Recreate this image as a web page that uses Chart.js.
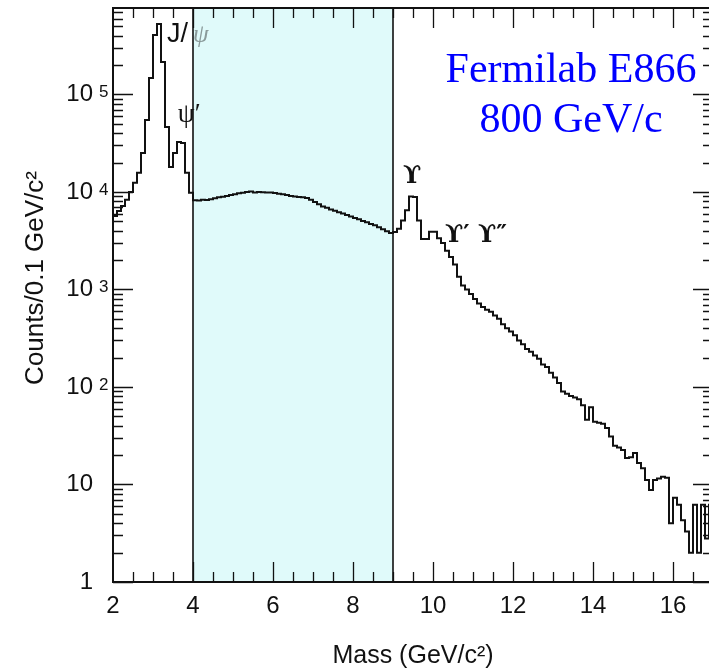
<!DOCTYPE html>
<html><head><meta charset="utf-8">
<script src="https://cdn.jsdelivr.net/npm/chart.js@4.4.1/dist/chart.umd.min.js"></script>
<style>
html,body{margin:0;padding:0;background:#fff;overflow:hidden;width:709px;height:668px}
#wrap{width:714px;height:668px}
canvas{display:block}
</style></head>
<body><div id="wrap"><canvas id="c" width="714" height="668"></canvas></div>
<script>
// Bin edges (GeV/c^2), 0.1 GeV bins
const massEdges = [
 2.0,2.1,2.2,2.3,2.4,2.5,2.6,2.7,2.8,2.9,
 3.0,3.1,3.2,3.3,3.4,3.5,3.6,3.7,3.8,3.9,
 4.0,4.1,4.2,4.3,4.4,4.5,4.6,4.7,4.8,4.9,
 5.0,5.1,5.2,5.3,5.4,5.5,5.6,5.7,5.8,5.9,
 6.0,6.1,6.2,6.3,6.4,6.5,6.6,6.7,6.8,6.9,
 7.0,7.1,7.2,7.3,7.4,7.5,7.6,7.7,7.8,7.9,
 8.0,8.1,8.2,8.3,8.4,8.5,8.6,8.7,8.8,8.9,
 9.0,9.1,9.2,9.3,9.4,9.5,9.6,9.7,9.8,9.9,
 10.0,10.1,10.2,10.3,10.4,10.5,10.6,10.7,10.8,10.9,
 11.0,11.1,11.2,11.3,11.4,11.5,11.6,11.7,11.8,11.9,
 12.0,12.1,12.2,12.3,12.4,12.5,12.6,12.7,12.8,12.9,
 13.0,13.1,13.2,13.3,13.4,13.5,13.6,13.7,13.8,13.9,
 14.0,14.1,14.2,14.3,14.4,14.5,14.6,14.7,14.8,14.9,
 15.0,15.1,15.2,15.3,15.4,15.5,15.6,15.7,15.8,15.9,
 16.0,16.1,16.2,16.3,16.4,16.5,16.6,16.7,16.8,16.9,
 17.0];
// Counts per 0.1 GeV/c^2 bin
const counts = [
 5670,6390,7180,8300,10000,12400,15700,25100,54700,147700,
 407000,528000,215000,46400,18000,25100,32600,31800,15700,9800,
 8200,8150,8300,8250,8400,8600,8800,8950,9100,9300,
 9500,9700,9800,10000,10100,9900,10000,9950,9850,9900,
 9750,9600,9450,9300,9100,9000,8900,8800,8650,8300,
 7900,7500,7100,6900,6600,6400,6200,6000,5800,5600,
 5400,5250,5050,4900,4700,4550,4350,4150,3950,3800,
 3880,4200,5100,6500,9000,8900,5100,3300,3300,3900,
 3900,3350,3000,2500,2150,1800,1350,1100,1000,900,
 800,720,660,620,590,540,500,440,400,370,
 340,300,275,245,230,210,195,170,160,140,
 125,110,90,85,81,78,75,65,46,62,
 44,43,42,38,31,25,24,22.6,18.7,19,
 21,16.6,14.7,11.1,8.8,11.1,11.5,12,11.7,4.0,
 7.3,6.2,4.3,3.3,2.0,6.2,2.0,6.2,2.8,6.2];
const xTickValues = [2,4,6,8,10,12,14,16];
const xTickLabels = ['2','4','6','8','10','12','14','16'];
const yTickValues = [1,10,100,1000,10000,100000];
const yTickLabels = ['1','10','10','10','10','10'];
const yTickExponents = ['','','2','3','4','5'];
const xRange = [2, 17];
const yRange = [1, 7.7e5];
const highlightRange = [4, 9];
const annotations = [
  {text:'J/', x:3.35, y:3.45e5, font:'27px "Liberation Sans", Arial, sans-serif', color:'#111', align:'left'},
  {text:'\u03C8', x:4.0, y:3.45e5, font:'italic 25px "Liberation Serif", serif', color:'#8a9a9a', align:'left'},
  {text:'\u03C8\u2032', x:3.62, y:5.2e4, font:'27px "Liberation Serif", serif', color:'#111', align:'left'},
  {text:'\u03D2', x:9.25, y:1.24e4, font:'bold 24px "DejaVu Serif", serif', color:'#111', align:'left'},
  {text:'\u03D2\u2032 \u03D2\u2033', x:10.3, y:3.07e3, font:'bold 24px "DejaVu Serif", serif', color:'#111', align:'left'},
  {text:'Fermilab E866', x:13.45, y:1.34e5, font:'42px "Liberation Serif", "Times New Roman", serif', color:'#0000ff', align:'center'},
  {text:'800 GeV/c', x:13.45, y:4.12e4, font:'42px "Liberation Serif", "Times New Roman", serif', color:'#0000ff', align:'center'}
];

const histPoints = massEdges.map((e,i)=>({x:e, y:counts[Math.min(i, counts.length-1)]}));

const boxPlugin = {
  id:'box',
  beforeDatasetsDraw(chart){
    const {ctx, chartArea:a, scales:{x}} = chart;
    const x0 = x.getPixelForValue(highlightRange[0]), x1 = x.getPixelForValue(highlightRange[1]);
    ctx.save();
    ctx.fillStyle = 'rgb(224,250,250)';
    ctx.fillRect(x0, a.top, x1-x0, a.bottom-a.top);
    ctx.restore();
  },
  afterDatasetsDraw(chart){
    const {ctx, chartArea:a, scales:{x,y}} = chart;
    const x0 = x.getPixelForValue(highlightRange[0]), x1 = x.getPixelForValue(highlightRange[1]);
    ctx.save();
    ctx.strokeStyle='#111'; ctx.lineWidth=1.6;
    ctx.strokeRect(x0, a.top, x1-x0, a.bottom-a.top);
    // frame
    ctx.lineWidth=2;
    ctx.strokeRect(a.left, a.top, a.right-a.left, a.bottom-a.top);
    // ticks
    ctx.lineWidth=1.3;
    ctx.beginPath();
    for(let v=xRange[0]+0.5; v<xRange[1]; v+=0.5){
      const px = Math.round(x.getPixelForValue(v))+0.5;
      const L = (Math.abs(v%2)<1e-6) ? 20 : 10;
      ctx.moveTo(px, a.bottom); ctx.lineTo(px, a.bottom-L);
      ctx.moveTo(px, a.top); ctx.lineTo(px, a.top+L);
    }
    for(let d=1; d<=1e6; d*=10){
      for(let m=1; m<10; m++){
        const v=d*m; if(v<yRange[0]||v>yRange[1]) continue;
        const py = Math.round(y.getPixelForValue(v))+0.5;
        const L = m===1 ? 20 : 10;
        ctx.moveTo(a.left, py); ctx.lineTo(a.left+L, py);
        ctx.moveTo(a.right, py); ctx.lineTo(a.right-L, py);
      }
    }
    ctx.stroke();
    // exponents of the decade tick labels
    ctx.font='17px "Liberation Sans", Arial, sans-serif'; ctx.fillStyle='#111';
    ctx.textAlign='left'; ctx.textBaseline='alphabetic';
    yTickValues.forEach((v,i)=>{
      if(yTickExponents[i]) ctx.fillText(yTickExponents[i], a.left-14, y.getPixelForValue(v)+3);
    });
    // annotations
    annotations.forEach(t=>{
      ctx.font=t.font; ctx.fillStyle=t.color; ctx.textAlign=t.align; ctx.textBaseline='alphabetic';
      ctx.fillText(t.text, x.getPixelForValue(t.x), y.getPixelForValue(t.y));
    });
    ctx.restore();
  }
};

const tickFont = {family:'"Liberation Sans", Arial, sans-serif', size:24};
new Chart(document.getElementById('c'), {
  type:'line',
  data:{datasets:[{
    data:histPoints, stepped:'before', borderColor:'#111', borderWidth:2,
    pointRadius:0, fill:false, tension:0
  }]},
  options:{
    responsive:false, animation:false,
    layout:{padding:{top:8, right:1, left:0, bottom:0}},
    plugins:{legend:{display:false}, tooltip:{enabled:false}},
    scales:{
      x:{type:'linear', min:xRange[0], max:xRange[1],
         grid:{display:false, drawTicks:false}, border:{display:false},
         afterBuildTicks:s=>{s.ticks = xTickValues.map(v=>({value:v}));},
         afterFit:s=>{s.height=86; s.paddingLeft=0; s.paddingRight=0;},
         ticks:{font:tickFont, color:'#111', padding:10, maxRotation:0,
                callback:(v)=>xTickLabels[xTickValues.indexOf(v)]},
         title:{display:true, text:'Mass (GeV/c\u00B2)', font:{family:'"Liberation Sans", Arial, sans-serif', size:25}, color:'#111', padding:{top:0,bottom:-3}}
      },
      y:{type:'logarithmic', min:yRange[0], max:yRange[1],
         grid:{display:false, drawTicks:false}, border:{display:false},
         afterBuildTicks:s=>{s.ticks = yTickValues.map(v=>({value:v}));},
         afterFit:s=>{s.width=113; s.paddingTop=0; s.paddingBottom=0;},
         ticks:{font:tickFont, color:'#111', padding:20,
                callback:(v)=>yTickLabels[yTickValues.indexOf(v)]},
         title:{display:true, text:'    \u2009Counts/0.1 GeV/c\u00B2', font:{family:'"Liberation Sans", Arial, sans-serif', size:26}, color:'#111', padding:{top:20,bottom:0}}
      }
    }
  },
  plugins:[boxPlugin]
});
</script>
</body></html>
